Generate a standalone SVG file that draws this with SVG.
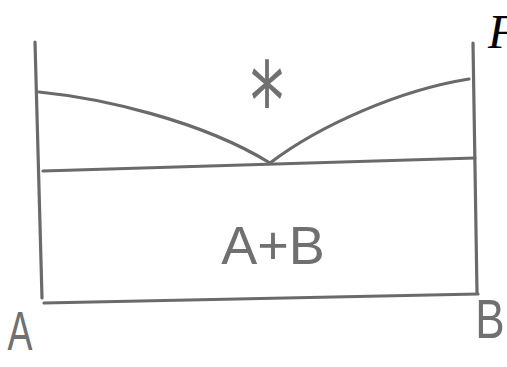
<svg xmlns="http://www.w3.org/2000/svg" width="507" height="367" viewBox="0 0 507 367">
  <style>
    .ln { fill: none; stroke: #6a6a6a; stroke-width: 3.2; stroke-linecap: round; stroke-linejoin: round; }
    .hand { font-family: "Liberation Sans", Arial, sans-serif; fill: #707070; }
    .star { font-family: "DejaVu Sans", sans-serif; fill: #707070; }
    .ttl { font-family: "Liberation Serif", "Times New Roman", serif; font-style: italic; fill: #000; }
  </style>
  <rect width="507" height="367" fill="#ffffff"/>
  <g id="frame">
    <path class="ln" d="M35,42 L42,298"/>
    <path class="ln" d="M473,43 L477,293"/>
    <path class="ln" d="M44,303 L478,294"/>
  </g>
  <g id="curves">
    <path id="eutectic" class="ln" d="M43,171 L475,158"/>
    <path id="liquidus-A" class="ln" d="M39,92 C100,98 200,120 270,163"/>
    <path id="liquidus-B" class="ln" d="M270,163 C320,125 400,90 469,79"/>
  </g>
  <g id="labels">
    <text class="star" transform="translate(267,84) scale(0.68,1.07)" x="0" y="51" font-size="100" text-anchor="middle">*</text>
    <text class="hand" x="273" y="264" font-size="54" text-anchor="middle">A+B</text>
    <text class="hand" transform="translate(20,350) scale(0.68,1)" x="0" y="0" font-size="55" text-anchor="middle">A</text>
    <text class="hand" transform="translate(490,338) scale(0.8,1)" x="0" y="0" font-size="55" text-anchor="middle">B</text>
    <text class="ttl" x="488" y="48" font-size="48">F</text>
  </g>
</svg>
